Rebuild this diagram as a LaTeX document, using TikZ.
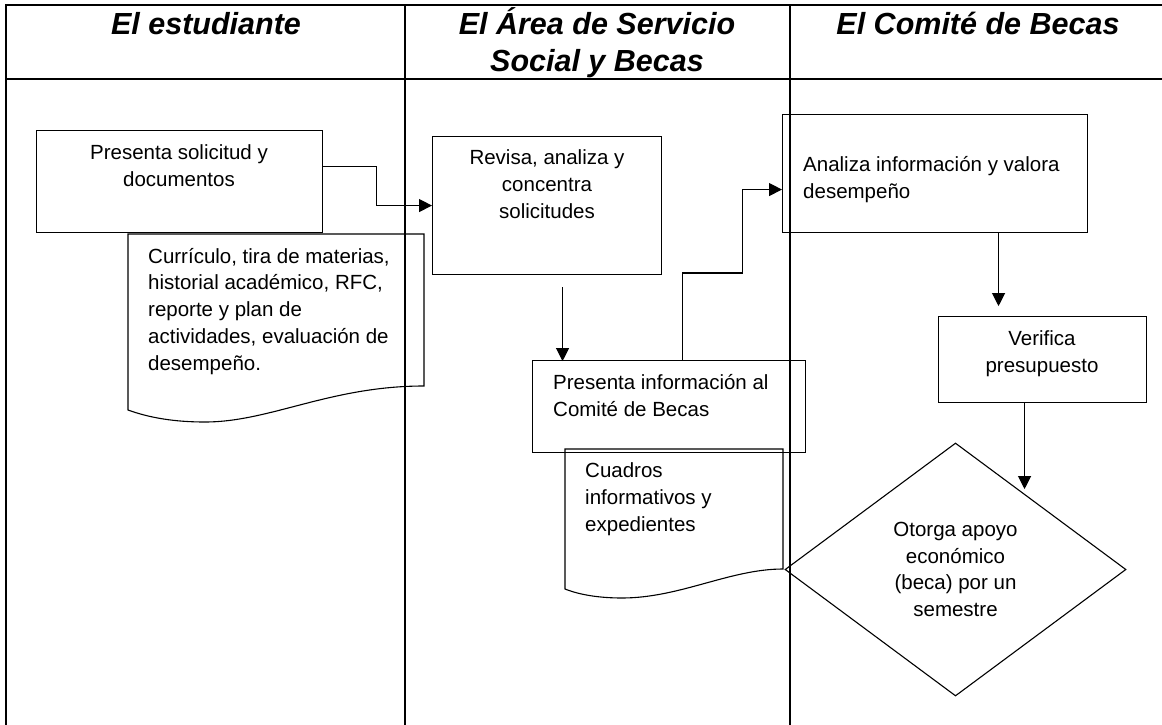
\documentclass[tikz,border=0pt]{standalone}
\usepackage{fontspec}
\setmainfont{Liberation Sans}
\usetikzlibrary{shapes.geometric, positioning, arrows.meta, calc}

\begin{document}
\begin{tikzpicture}[
            x=1pt, y=-1pt,
            % Estilos de los nodos
            lane/.style={line width=1.8pt},
            proc/.style={rectangle, draw, line width=1.1pt, inner sep=0pt, anchor=north west},
            docshape/.style={draw, line width=1.1pt},
            txt/.style={font=\fontsize{20.5}{26.7}\selectfont, inner sep=0pt},
            head/.style={font=\fontsize{30.5}{37}\selectfont\bfseries\itshape, align=center, inner sep=0pt},
            decision/.style={diamond, draw, line width=1.1pt, inner sep=0pt, minimum width=341pt, minimum height=253pt, align=center, txt},
            arrow/.style={-{Triangle[length=13pt,width=13pt]}, line width=1.1pt}
        ]
            \useasboundingbox (0,0) rectangle (1162,725);

            % Marco y carriles
            \draw[lane] (6,725) -- (6,5) -- (1162,5);
            \draw[lane] (6,79) -- (1162,79);
            \draw[lane] (405,5) -- (405,725);
            \draw[lane] (790,5) -- (790,725);

            % Encabezados (el ancla base es la última línea)
            \node[head, anchor=base] (hest) at (206,35) {El estudiante};
            \node[head, anchor=base] (harea) at (597,72) {El Área de Servicio\\Social y Becas};
            \node[head, anchor=base] (hcomite) at (978,35) {El Comité de Becas};

            % Definición de nodos
            \node[proc, minimum width=286pt, minimum height=102pt] (solic) at (36,130) {};
            \node[txt, align=center, anchor=base] (tsolic) at (179,186) {Presenta solicitud y\\documentos};

            \node[proc, minimum width=229pt, minimum height=138pt] (revisa) at (432,136) {};
            \node[txt, align=center, anchor=base] (trevisa) at (547,218) {Revisa, analiza y\\concentra\\solicitudes};

            \node[proc, minimum width=273pt, minimum height=92pt] (presenta) at (532,360) {};
            \node[txt, align=left, anchor=base west] (tpresenta) at (553,416) {Presenta información al\\Comité de Becas};

            \node[proc, minimum width=305pt, minimum height=118pt] (analiza) at (782,114) {};
            \node[txt, align=left, anchor=base west] (tanaliza) at (803,198) {Analiza información y valora\\desempeño};

            \node[proc, minimum width=208pt, minimum height=86pt] (verifica) at (938,316) {};
            \node[txt, align=center, anchor=base] (tverifica) at (1042,372) {Verifica\\presupuesto};

            \node[decision] (otorga) at (955.5,569.5) {Otorga apoyo\\económico\\(beca) por un\\semestre};

            % Documentos
            \draw[docshape] (424,386) -- (424,234) -- (128,234) -- (128,410)
                .. controls (150,418) and (175,422) .. (205,422)
                .. controls (270,422) and (330,386) .. cycle;
            \node[txt, align=left, anchor=base west] (curric) at (148,370) {Currículo, tira de materias,\\historial académico, RFC,\\reporte y plan de\\actividades, evaluación de\\desempeño.};

            \draw[docshape] (783,569) -- (783,449) -- (565,449) -- (565,589)
                .. controls (580,595) and (600,598) .. (622,598)
                .. controls (680,598) and (730,569) .. cycle;
            \node[txt, align=left, anchor=base west] (cuadros) at (585,531) {Cuadros\\informativos y\\expedientes};

            % Conexiones
            \draw[arrow] ([yshift=15pt]solic.east) -- ++(53,0) |- (revisa.west);
            \draw[arrow] ([xshift=15.5pt,yshift=-12pt]revisa.south) -- ++(0,74);
            \draw[arrow] ([xshift=13.5pt]presenta.north) -- ++(0,-87) -- ++(60,0) |- ([yshift=-16pt]analiza.west);
            \draw[arrow] ([xshift=63.5pt]analiza.south) -- ++(0,73);
            \draw[arrow] ([xshift=-18pt]verifica.south) -- ++(0,86);
        \end{tikzpicture}
\end{document}
